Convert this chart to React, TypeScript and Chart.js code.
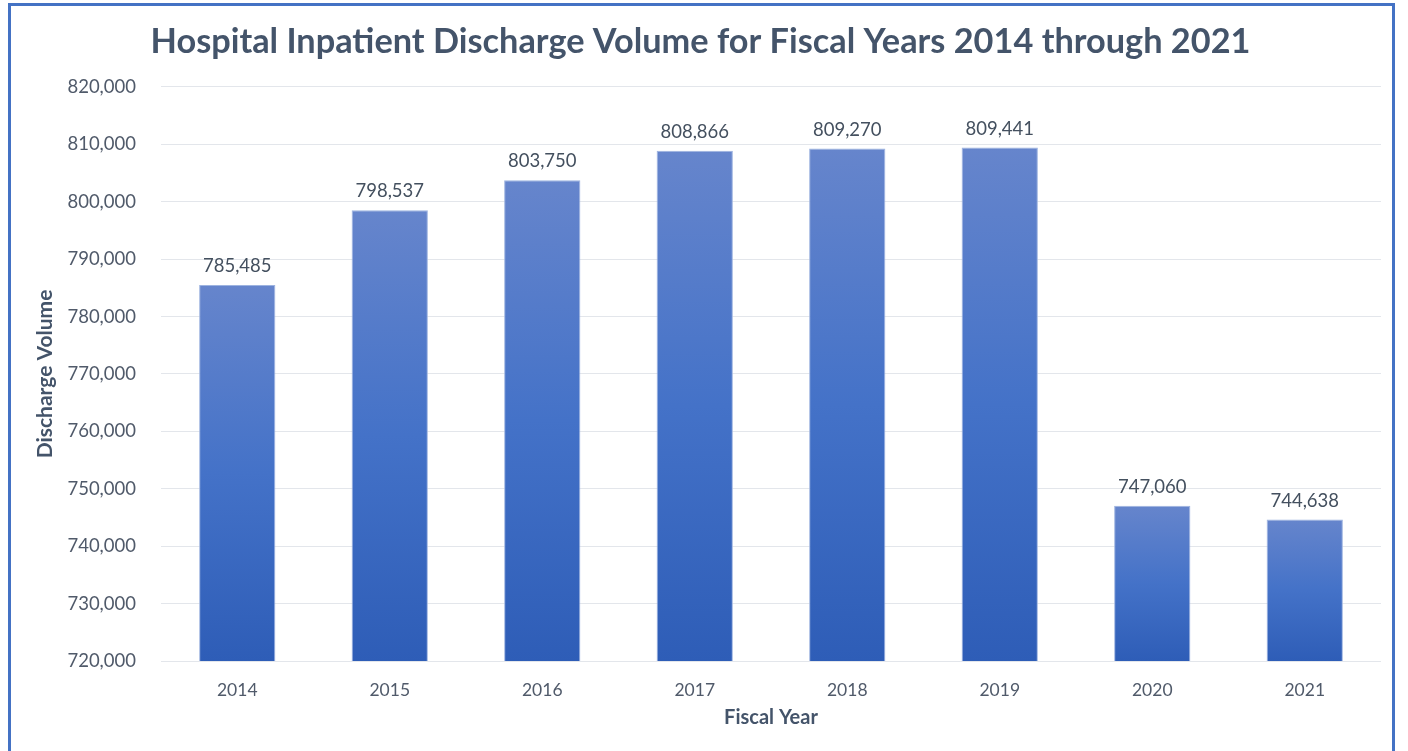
import React, { useEffect, useRef } from "react";
import { Chart, registerables } from "chart.js";

Chart.register(...registerables);

const categories = ["2014", "2015", "2016", "2017", "2018", "2019", "2020", "2021"];
const dischargeValues = [785485, 798537, 803750, 808866, 809270, 809441, 747060, 744638];
const chartTitle = "Hospital Inpatient Discharge Volume for Fiscal Years 2014 through 2021";
const yAxisTitle = "Discharge Volume";
const xAxisTitle = "Fiscal Year";
const yMin = 720000;
const yMax = 820000;
const yStep = 10000;

const FONT = "Lato, 'Open Sans', sans-serif";

const fmt = (v: number) => v.toLocaleString("en-US");

const dataLabelPlugin = {
  id: "dataLabels",
  afterDatasetsDraw(chart: any) {
    const { ctx } = chart;
    const meta = chart.getDatasetMeta(0);
    ctx.save();
    ctx.font = `18.5px ${FONT}`;
    ctx.fillStyle = "#44505f";
    ctx.textAlign = "center";
    ctx.textBaseline = "middle";
    meta.data.forEach((bar: any, i: number) => {
      ctx.fillText(fmt(dischargeValues[i]), bar.x, bar.y - 19);
    });
    ctx.restore();
  },
};

export default function App() {
  const canvasRef = useRef<HTMLCanvasElement | null>(null);

  useEffect(() => {
    if (!canvasRef.current) return;
    const chart = new Chart(canvasRef.current, {
      type: "bar",
      data: {
        labels: categories,
        datasets: [
          {
            data: dischargeValues,
            backgroundColor: (context: any) => {
              const c = context.chart;
              const y = c.scales?.y;
              const area = c.chartArea;
              if (!y || !area || context.dataIndex === undefined) return "#4472C4";
              const v = dischargeValues[context.dataIndex];
              const top = y.getPixelForValue(v);
              const bottom = area.bottom;
              const g = c.ctx.createLinearGradient(0, top, 0, bottom);
              g.addColorStop(0, "#6685cc");
              g.addColorStop(0.5, "#4472c8");
              g.addColorStop(1, "#2e5db7");
              return g;
            },
            borderColor: "#9db3e0",
            borderWidth: 1,
            borderSkipped: false,
            barPercentage: 0.5,
            categoryPercentage: 1.0,
          },
        ],
      },
      options: {
        animation: false,
        responsive: false,
        maintainAspectRatio: false,
        layout: { padding: { left: 20, right: 27, top: 0, bottom: 0 } },
        plugins: {
          legend: { display: false },
          tooltip: { enabled: false },
          title: {
            display: true,
            text: chartTitle,
            color: "#44546a",
            font: { family: FONT, size: 34.3, weight: "bold", lineHeight: 1.2 },
            padding: { top: 21.4, bottom: 24.4 },
          },
        },
        scales: {
          x: {
            grid: { display: false },
            border: { display: false },
            ticks: {
              color: "#505a6a",
              font: { family: FONT, size: 17.5 },
              padding: 11,
            },
            title: {
              display: true,
              text: xAxisTitle,
              color: "#44546a",
              font: { family: FONT, size: 20, weight: "bold", lineHeight: 1.2 },
              padding: { top: 0, bottom: 21 },
            },
            afterFit: (s: any) => {
              s.height = 90;
            },
          },
          y: {
            min: yMin,
            max: yMax,
            grid: { color: "#e3e6eb", lineWidth: 1, drawTicks: false },
            border: { display: false },
            ticks: {
              stepSize: yStep,
              color: "#505a6a",
              font: { family: FONT, size: 18.5 },
              padding: 25,
              callback: (v: any) => fmt(Number(v)),
            },
            title: {
              display: true,
              text: yAxisTitle,
              color: "#44546a",
              font: { family: FONT, size: 21, weight: "bold", lineHeight: 1.2 },
              padding: { top: 12.4, bottom: 0 },
            },
            afterFit: (s: any) => {
              s.width = 141;
            },
          },
        },
      },
      plugins: [dataLabelPlugin],
    });
    return () => chart.destroy();
  }, []);

  return (
    <div
      style={{
        position: "fixed",
        left: 0,
        top: 0,
        width: 1408,
        height: 751,
        overflow: "hidden",
        background: "#ffffff",
      }}
    >
      <canvas
        ref={canvasRef}
        width={1408}
        height={751}
        style={{ position: "absolute", left: 0, top: 0, width: 1408, height: 751 }}
      />
      <div
        style={{
          position: "absolute",
          left: 8,
          top: 3,
          width: 1387,
          height: 800,
          border: "3px solid #4472c4",
          boxSizing: "border-box",
          pointerEvents: "none",
        }}
      />
    </div>
  );
}
